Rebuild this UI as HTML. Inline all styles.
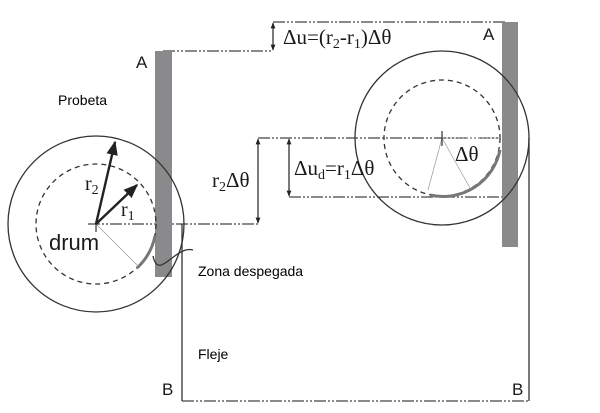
<!DOCTYPE html>
<html><head><meta charset="utf-8"><style>
html,body{margin:0;padding:0;background:#fff;}
svg{display:block}
text{font-family:"Liberation Sans",sans-serif;}
.s{font-family:"Liberation Serif",serif;fill:#1a1a1a}
.l{font-family:"Liberation Sans",sans-serif;fill:#1a1a1a}
</style></head><body>
<svg width="600" height="413" viewBox="0 0 600 413">
<defs>
<marker id="a" viewBox="0 0 10 10" refX="9" refY="5" markerWidth="6" markerHeight="6" orient="auto-start-reverse"><path d="M0,1 L10,5 L0,9 z" fill="#222"/></marker>
<marker id="b" viewBox="0 0 10 10" refX="9" refY="5" markerWidth="5" markerHeight="5" orient="auto-start-reverse"><path d="M0,1 L10,5 L0,9 z" fill="#222"/></marker>
</defs>
<g stroke="#444" stroke-width="1.2" fill="none" stroke-dasharray="12 2 2 2 2 2">
<line x1="163" y1="51" x2="273" y2="51"/>
<line x1="273" y1="22" x2="505" y2="22"/>
<line x1="258" y1="138" x2="500" y2="138"/>
<line x1="289" y1="197" x2="505" y2="197"/>
<line x1="88" y1="224" x2="258" y2="224"/>
<line x1="182" y1="401" x2="529" y2="401"/>
</g>
<rect x="155" y="51" width="17" height="226" fill="#8a8a8c"/>
<rect x="502" y="22" width="16" height="225" fill="#8a8a8c"/>
<g stroke="#333" stroke-width="1.3" fill="none">
<circle cx="96" cy="224" r="88"/>
<circle cx="96" cy="224" r="60" stroke-dasharray="5 4"/>
<circle cx="442" cy="138" r="87"/>
<circle cx="442" cy="138" r="58" stroke-dasharray="5 4"/>
<line x1="182" y1="224" x2="182" y2="401"/>
<line x1="529" y1="138" x2="529" y2="401"/>
<path d="M153,256 C156,270 162,266 172,258 C180,252 186,248 193,250"/>
</g>
<path d="M155,236 A60,60 0 0 1 137,268" stroke="#777" stroke-width="3" fill="none"/>
<path d="M500,150 A58,58 0 0 1 430,195" stroke="#777" stroke-width="3" fill="none"/>
<g stroke="#999" stroke-width="0.7" fill="none">
<line x1="96" y1="224" x2="137" y2="265"/>
<line x1="442" y1="138" x2="470" y2="188"/>
<line x1="442" y1="138" x2="428" y2="190"/>
<line x1="442" y1="138" x2="500" y2="138" stroke-dasharray="2 2"/>
</g>
<line x1="442" y1="131" x2="442" y2="146" stroke="#333" stroke-width="1.2"/>
<line x1="96" y1="224" x2="96" y2="232" stroke="#333" stroke-width="1.2"/>
<g stroke="#222" stroke-width="1.2">
<line x1="273" y1="23" x2="273" y2="50" marker-start="url(#b)" marker-end="url(#b)"/>
<line x1="258" y1="139" x2="258" y2="223" marker-start="url(#b)" marker-end="url(#b)"/>
<line x1="289" y1="139" x2="289" y2="196" marker-start="url(#b)" marker-end="url(#b)"/>
<line x1="96" y1="224" x2="115" y2="142" stroke-width="2.4" marker-end="url(#a)"/>
<line x1="96" y1="224" x2="137" y2="185" stroke-width="2.4" marker-end="url(#a)"/>
</g>
<text x="136" y="68" class="l" font-size="17">A</text>
<text x="483" y="40" class="l" font-size="17">A</text>
<text x="58" y="105" font-size="14">Probeta</text>
<text x="198" y="276" font-size="14">Zona despegada</text>
<text x="198" y="359" font-size="14">Fleje</text>
<text x="162" y="395" class="l" font-size="17">B</text>
<text x="512" y="395" class="l" font-size="17">B</text>
<text x="49" y="250" class="l" font-size="22">drum</text>
<text x="85" y="190" class="s" font-size="20">r<tspan font-size="14" dy="4">2</tspan></text>
<text x="121" y="216" class="s" font-size="20">r<tspan font-size="14" dy="4">1</tspan></text>
<text x="212" y="187" class="s" font-size="21">r<tspan font-size="14" dy="4">2</tspan><tspan dy="-4">Δθ</tspan></text>
<text x="283" y="44" class="s" font-size="21">Δu=(r<tspan font-size="14" dy="4">2</tspan><tspan dy="-4">-r</tspan><tspan font-size="14" dy="4">1</tspan><tspan dy="-4">)Δθ</tspan></text>
<text x="294" y="175" class="s" font-size="21">Δu<tspan font-size="14" dy="4">d</tspan><tspan dy="-4">=r</tspan><tspan font-size="14" dy="4">1</tspan><tspan dy="-4">Δθ</tspan></text>
<text x="455" y="161" class="s" font-size="21">Δθ</text>
</svg>
</body></html>
